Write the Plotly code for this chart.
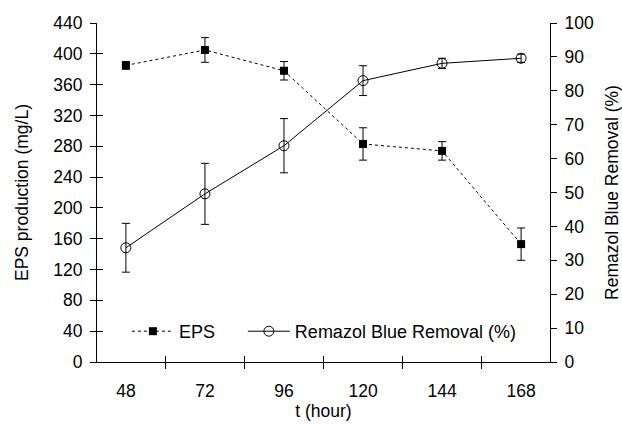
import plotly.graph_objects as go

hours = ["48", "72", "96", "120", "144", "168"]
eps = [385, 405, 378, 283, 274, 153]
eps_err = [5, 16, 12, 21, 12, 21]
removal = [33.7, 49.6, 63.8, 83.0, 88.1, 89.6]
removal_err = [7.2, 9.0, 8.0, 4.4, 1.5, 1.2]

FONT = "Liberation Sans, Arial, sans-serif"
FS = 17.5

fig = go.Figure()
fig.add_trace(go.Scatter(
    x=hours, y=eps, name="EPS", mode="lines+markers",
    line=dict(color="black", width=1, dash="dot"),
    marker=dict(symbol="square", size=8, color="black"),
    error_y=dict(type="data", array=eps_err, color="black", thickness=1, width=4),
    xaxis="x", yaxis="y", legend="legend"))
fig.add_trace(go.Scatter(
    x=hours, y=removal, name="Remazol Blue Removal (%)", mode="lines+markers",
    line=dict(color="black", width=1),
    marker=dict(symbol="circle-open", size=10, color="black", line=dict(width=1)),
    error_y=dict(type="data", array=removal_err, color="black", thickness=1, width=4),
    xaxis="x", yaxis="y2", legend="legend2"))
# invisible trace to anchor inner-tick overlay axes
fig.add_trace(go.Scatter(x=hours, y=eps, mode="markers", marker=dict(opacity=0),
                         showlegend=False, hoverinfo="skip", xaxis="x3", yaxis="y3"))

tickfont = dict(family=FONT, size=FS, color="black")
legend_common = dict(orientation="h", y=0.09, yanchor="middle", xanchor="left",
                     bgcolor="rgba(0,0,0,0)", itemwidth=42,
                     font=dict(family=FONT, size=18, color="black"))
fig.update_layout(
    width=622, height=424,
    margin=dict(l=97, r=72, t=23, b=62),
    paper_bgcolor="white", plot_bgcolor="white",
    font=dict(family=FONT, size=FS, color="black"),
    xaxis=dict(type="category", categoryarray=hours, tickson="boundaries",
               ticks="outside", ticklen=6, tickwidth=1, tickcolor="black",
               showline=True, linecolor="black", linewidth=1, showgrid=False,
               tickfont=tickfont, ticklabelstandoff=13, automargin=False,
               title=dict(text="t (hour)", font=tickfont, standoff=3)),
    xaxis3=dict(type="category", categoryarray=hours, tickson="boundaries", overlaying="x",
                matches="x", ticks="inside", ticklen=6, tickwidth=1, tickcolor="black",
                showticklabels=False, showgrid=False, showline=False, anchor="y3",
                automargin=False),
    yaxis=dict(range=[0, 440], dtick=40, ticks="outside", ticklen=6, tickwidth=1,
               tickcolor="black", showline=True, linecolor="black", linewidth=1,
               showgrid=False, zeroline=False, tickfont=tickfont, ticklabelstandoff=4,
               automargin=False,
               title=dict(text="EPS production (mg/L)", font=tickfont, standoff=20)),
    yaxis3=dict(range=[0, 440], dtick=40, overlaying="y", ticks="inside", ticklen=6,
                tickwidth=1, tickcolor="black", showticklabels=False, showgrid=False,
                zeroline=False, anchor="x3", automargin=False),
    yaxis2=dict(range=[0, 100], dtick=10, overlaying="y", side="right", anchor="x",
                ticks="outside", ticklen=6, tickwidth=1, tickcolor="black",
                showline=True, linecolor="black", linewidth=1, showgrid=False,
                zeroline=False, tickfont=tickfont, ticklabelstandoff=4, automargin=False,
                title=dict(text="Remazol Blue Removal (%)", font=tickfont, standoff=26)),
    yaxis4=dict(range=[0, 100], dtick=10, overlaying="y", side="right", anchor="x",
                ticks="inside", ticklen=6, tickwidth=1, tickcolor="black",
                showticklabels=False, showgrid=False, zeroline=False, automargin=False),
    legend=dict(x=0.066, **legend_common),
    legend2=dict(x=0.322, **legend_common),
    showlegend=True,
)
fig.write_html("out.html")
